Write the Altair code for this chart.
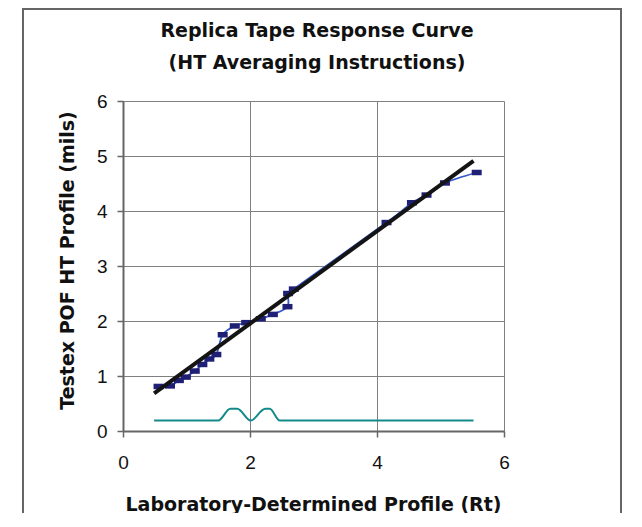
import altair as alt
import pandas as pd

# ---- data ----
marker_x = [0.56, 0.74, 0.88, 0.99, 1.13, 1.25, 1.36, 1.47, 1.57, 1.76, 1.94,
            2.17, 2.36, 2.59, 2.60, 2.69, 4.15, 4.55, 4.78, 5.07, 5.57]
marker_y = [0.81, 0.82, 0.92, 0.98, 1.09, 1.21, 1.31, 1.39, 1.75, 1.91, 1.97,
            2.04, 2.12, 2.26, 2.50, 2.58, 3.79, 4.15, 4.29, 4.51, 4.70]

fit_x = [0.49, 5.52]
fit_y = [0.685, 4.91]

base_x = [0.49, 1.50, 1.69, 1.80, 2.01, 2.24, 2.31, 2.47, 5.52]
base_y = [0.19, 0.19, 0.405, 0.405, 0.19, 0.405, 0.405, 0.19, 0.19]

title_lines = ["Replica Tape Response Curve", "(HT Averaging Instructions)"]
x_title = "Laboratory-Determined Profile (Rt)"
y_title = "Testex POF HT Profile (mils)"
x_ticks = [0, 2, 4, 6]
y_ticks = [0, 1, 2, 3, 4, 5, 6]

pts = pd.DataFrame({"x": marker_x, "y": marker_y})
fit = pd.DataFrame({"x": fit_x, "y": fit_y})
base = pd.DataFrame({"x": base_x, "y": base_y})
one = pd.DataFrame({"k": [0]})

FONT = "Liberation Sans"
TFONT = "DejaVu Sans"

xs = alt.Scale(domain=[0, 6], nice=False, zero=False)
ys = alt.Scale(domain=[0, 6], nice=False, zero=False)

xax = alt.Axis(values=x_ticks, title=x_title, grid=True, gridColor="#808080",
               gridWidth=1, domainColor="#666666", domainWidth=2,
               tickColor="#666666", tickSize=6, tickWidth=1.5,
               labelFont=FONT, labelFontSize=19, labelColor="#111111",
               labelPadding=16, labelFlush=False, labelOverlap=False,
               titleFont=TFONT, titleFontSize=19, titleFontWeight="bold",
               titleColor="#111111", titleBaseline="alphabetic",
               titleX=190, titleY=79, format="d")
yax = alt.Axis(values=y_ticks, title=y_title, grid=True, gridColor="#808080",
               gridWidth=1, domainColor="#666666", domainWidth=2,
               tickColor="#666666", tickSize=6, tickWidth=1.5,
               labelFont=FONT, labelFontSize=19, labelColor="#111111",
               labelPadding=10, labelFlush=False, labelOverlap=False,
               titleFont=TFONT, titleFontSize=19, titleFontWeight="bold",
               titleColor="#111111", titleBaseline="alphabetic",
               titleX=-50, titleY=159, titleAngle=270, format="d")

X = alt.X("x:Q", scale=xs, axis=xax)
Y = alt.Y("y:Q", scale=ys, axis=yax)

border = alt.Chart(one).mark_rect(fillOpacity=0, stroke="#666666", strokeWidth=2).encode(
    x=alt.value(-100), x2=alt.value(498), y=alt.value(-92), y2=alt.value(600))

blue = alt.Chart(pts).mark_line(color="#3658c8", strokeWidth=1.8,
                                interpolate="cardinal").encode(x=X, y=Y)

squares = alt.Chart(pts).mark_point(
    shape="M-1,-0.55L1,-0.55L1,0.55L-1,0.55Z", size=100, filled=True,
    fill="#1f1f75", opacity=1, strokeWidth=0).encode(x=X, y=Y)

fitline = alt.Chart(fit).mark_line(color="#141414", strokeWidth=4).encode(x=X, y=Y)

teal = alt.Chart(base).mark_line(color="#13898a", strokeWidth=2,
                                 interpolate="monotone").encode(x=X, y=Y)

t1 = alt.Chart(pd.DataFrame({"t": [title_lines[0]]})).mark_text(
    font=TFONT, fontSize=19, fontWeight="bold", color="#111111",
    align="center", baseline="alphabetic").encode(
    text="t:N", x=alt.value(194), y=alt.value(-64))
t2 = alt.Chart(pd.DataFrame({"t": [title_lines[1]]})).mark_text(
    font=TFONT, fontSize=19, fontWeight="bold", color="#111111",
    align="center", baseline="alphabetic").encode(
    text="t:N", x=alt.value(194), y=alt.value(-32))

chart = alt.layer(border, teal, blue, squares, fitline, t1, t2).properties(
    width=381, height=330,
    autosize=alt.AutoSizeParams(type="none"),
    padding={"left": 115, "top": 93, "right": 120, "bottom": 82},
    background="white",
).configure_view(stroke=None)

chart.save("out.html", embed_options={"renderer": "svg", "actions": False})
